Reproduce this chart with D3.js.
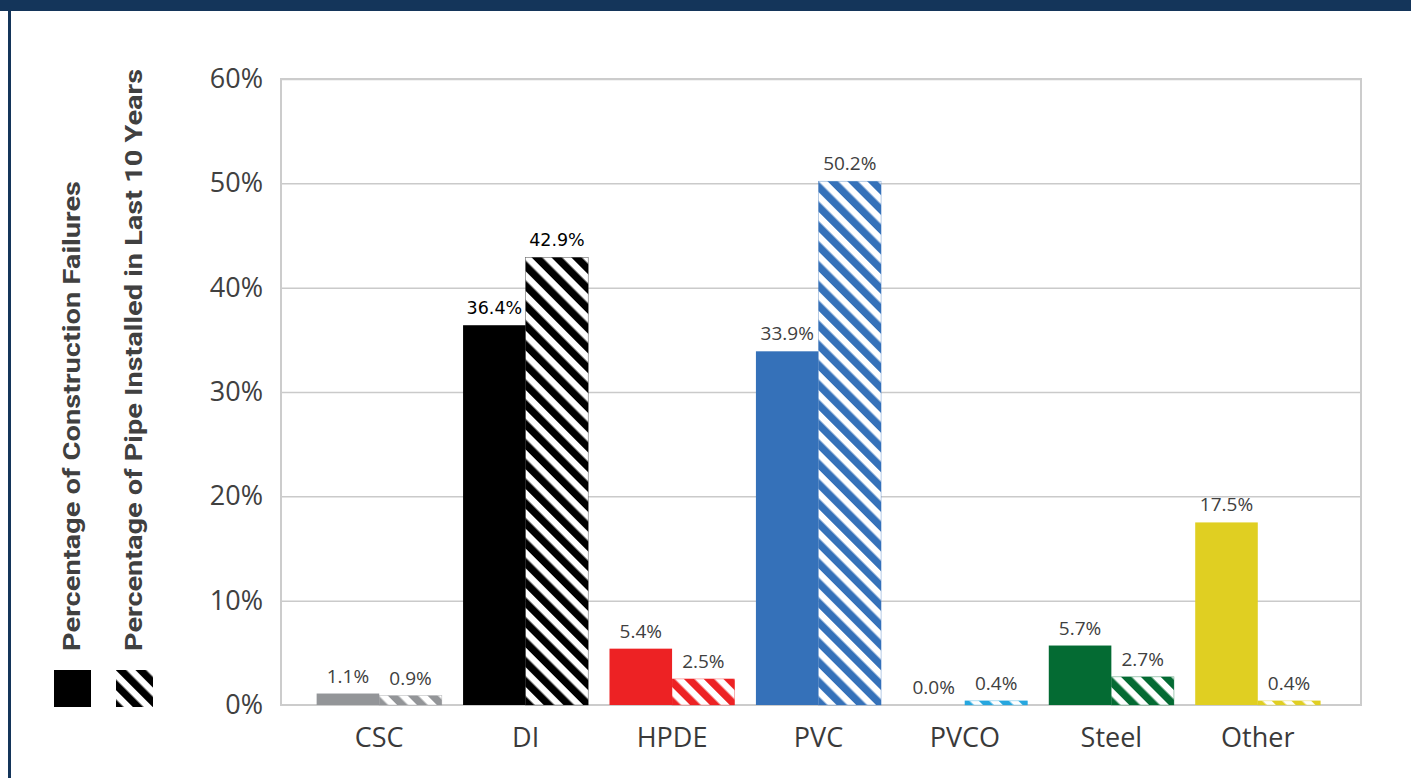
<!DOCTYPE html>
<html>
<head>
<meta charset="utf-8">
<script src="https://cdn.jsdelivr.net/npm/d3@7"></script>
<style>
  html, body { margin: 0; padding: 0; background: #fff; }
  svg { display: block; }
</style>
</head>
<body>
<svg id="chart" width="1411" height="778"></svg>
<script>
// Pipe materials and the two measures per material
const categories = ["CSC", "DI", "HPDE", "PVC", "PVCO", "Steel", "Other"];
const failures = [1.1, 36.4, 5.4, 33.9, 0.0, 5.7, 17.5];
const installed = [0.9, 42.9, 2.5, 50.2, 0.4, 2.7, 0.4];
const colors = ["#939598", "#000000", "#ed2224", "#3571b9", "#27a7df", "#046b33", "#e0cf22"];
const yTicks = [0, 10, 20, 30, 40, 50, 60];
const seriesNames = ["Percentage of Construction Failures", "Percentage of Pipe Installed in Last 10 Years"];

const svg = d3.select("#chart");
const W = 1411, H = 778;
const plot = { left: 281, right: 1361, top: 79, bottom: 705 };

// Frame: navy top band and left rule
svg.append("rect").attr("x", 0).attr("y", 0).attr("width", W).attr("height", 11).attr("fill", "#14355a");
svg.append("rect").attr("x", 8).attr("y", 0).attr("width", 3).attr("height", H).attr("fill", "#14355a");

// Diagonal stripe patterns, one per colour
const defs = svg.append("defs");
function addHatch(id, c) {
  const p = defs.append("pattern")
    .attr("id", id)
    .attr("patternUnits", "userSpaceOnUse")
    .attr("width", 14).attr("height", 14)
    .attr("patternTransform", "rotate(-45)");
  p.append("rect").attr("width", 14).attr("height", 14).attr("fill", "#fff");
  p.append("rect").attr("width", 7.5).attr("height", 14).attr("fill", c);
}
colors.forEach((c, i) => addHatch("hatch" + i, c));
addHatch("hatchL", "#000");

const y = d3.scaleLinear().domain([0, 60]).range([plot.bottom, plot.top]);
const x0 = d3.scaleBand().domain(categories).range([306, 1331]).padding(0);
const x1 = d3.scaleBand().domain(["fail", "pipe"]).range([0, x0.bandwidth()]).paddingInner(0).paddingOuter(0.17);

// Gridlines
const grid = svg.append("g")
  .attr("transform", `translate(${plot.left},0)`)
  .call(d3.axisLeft(y).tickValues(yTicks.slice(1)).tickSize(-(plot.right - plot.left)).tickFormat(""));
grid.select(".domain").remove();
grid.selectAll("line").attr("stroke", "#cacaca").attr("stroke-width", 1.5);

// Plot border
svg.append("rect")
  .attr("x", plot.left).attr("y", plot.top)
  .attr("width", plot.right - plot.left).attr("height", plot.bottom - plot.top)
  .attr("fill", "none").attr("stroke", "#cccccc").attr("stroke-width", 2);

// Y tick labels
const yAxis = svg.append("g")
  .attr("transform", `translate(263,0)`)
  .call(d3.axisLeft(y).tickValues(yTicks).tickSize(0).tickPadding(0).tickFormat(d => d + "%"));
yAxis.select(".domain").remove();
yAxis.selectAll("text")
  .attr("font-family", "'Open Sans', sans-serif")
  .attr("font-size", 27)
  .attr("fill", "#404040");

// Bars
const groups = svg.append("g").selectAll("g")
  .data(categories)
  .join("g")
  .attr("transform", d => `translate(${x0(d)},0)`);

groups.append("rect")
  .attr("x", x1("fail"))
  .attr("width", x1.bandwidth())
  .attr("y", (d, i) => y(failures[i]))
  .attr("height", (d, i) => y(0) - y(failures[i]))
  .attr("fill", (d, i) => colors[i]);

groups.append("rect")
  .attr("x", x1("pipe"))
  .attr("width", x1.bandwidth())
  .attr("y", (d, i) => y(installed[i]))
  .attr("height", (d, i) => y(0) - y(installed[i]))
  .attr("fill", (d, i) => `url(#hatch${i})`)
  .attr("stroke", (d, i) => colors[i])
  .attr("stroke-width", 0.6)
  .attr("stroke-opacity", 0.6);

// Value labels
const labelFont = (i) => i === 1 ? "'DejaVu Sans', sans-serif" : "'Open Sans', sans-serif";
const labelSize = (i) => i === 1 ? 17.5 : 19;
[["fail", failures], ["pipe", installed]].forEach(([key, vals]) => {
  groups.append("text")
    .attr("x", x1(key) + x1.bandwidth() / 2)
    .attr("y", (d, i) => y(vals[i]) - 11)
    .attr("text-anchor", "middle")
    .attr("font-family", (d, i) => labelFont(i))
    .attr("font-size", (d, i) => labelSize(i))
    .attr("fill", (d, i) => i === 1 ? "#000" : "#404040")
    .text((d, i) => vals[i].toFixed(1) + "%");
});

// Category axis labels
const xAxis = svg.append("g")
  .attr("transform", `translate(0,${plot.bottom})`)
  .call(d3.axisBottom(x0).tickSize(0).tickPadding(23));
xAxis.select(".domain").remove();
xAxis.selectAll("text")
  .attr("font-family", "'Open Sans', sans-serif")
  .attr("font-size", 27)
  .attr("fill", "#3a3a3a");

// Legend: swatches with rotated series names
const legend = [
  { name: seriesNames[0], x: 54, textX: 72, len: 470, fill: "#000" },
  { name: seriesNames[1], x: 116, textX: 134, len: 582, fill: "url(#hatchL)" }
];
legend.forEach(l => {
  svg.append("rect")
    .attr("x", l.x).attr("y", 670)
    .attr("width", 37).attr("height", 37)
    .attr("fill", l.fill);
  svg.append("text")
    .attr("transform", `translate(${l.textX + 8},651) rotate(-90)`)
    .attr("font-family", "'Liberation Sans Narrow', 'Roboto', sans-serif")
    .attr("font-weight", "bold")
    .attr("font-size", 24)
    .attr("fill", "#404040")
    .attr("textLength", l.len)
    .attr("lengthAdjust", "spacingAndGlyphs")
    .text(l.name);
});
</script>
</body>
</html>
